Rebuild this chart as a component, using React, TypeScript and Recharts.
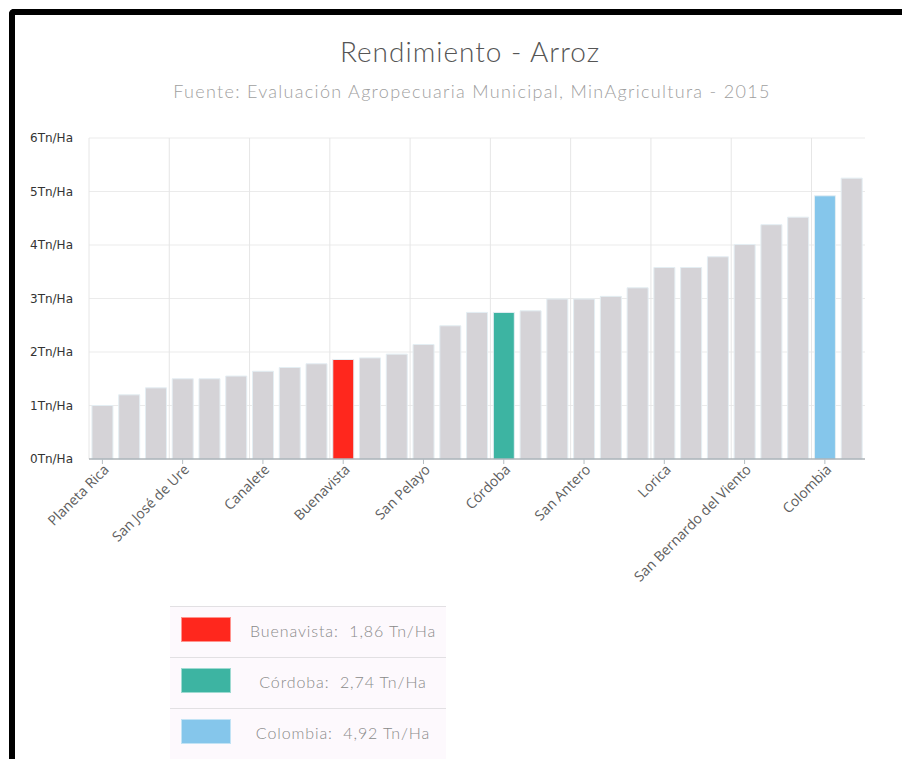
import React from "react";
import { BarChart, Bar, XAxis, YAxis, CartesianGrid, Cell, ReferenceLine } from "recharts";

const categories: string[] = [
  "Planeta Rica", "Tierralta", "Valencia", "San José de Ure", "Puerto Libertador",
  "Montelíbano", "Canalete", "Ayapel", "Pueblo Nuevo", "Buenavista",
  "La Apartada", "Sahagún", "San Pelayo", "Chinú", "San Carlos",
  "Córdoba", "Ciénaga de Oro", "Montería", "San Antero", "Cereté",
  "Cotorra", "Lorica", "Purísima", "Momil", "San Bernardo del Viento",
  "Moñitos", "Los Córdobas", "Colombia", "Chimá",
];

const yields: number[] = [
  1.0, 1.2, 1.33, 1.5, 1.5,
  1.55, 1.64, 1.71, 1.78, 1.86,
  1.89, 1.96, 2.14, 2.49, 2.74,
  2.74, 2.77, 2.99, 2.99, 3.04,
  3.2, 3.58, 3.58, 3.78, 4.01,
  4.38, 4.52, 4.92, 5.25,
];

const yTicks: number[] = [0, 1, 2, 3, 4, 5, 6];

const highlightNames: string[] = ["Buenavista", "Córdoba", "Colombia"];
const highlightColors: string[] = ["#ff271d", "#3db4a2", "#85c6eb"];
const highlightValues: string[] = ["1,86", "2,74", "4,92"];

const baseColor = "#d5d3d7";

const data = categories.map((name, i) => ({ name, value: yields[i] }));
const gridCats = categories.filter((_, i) => i % 3 === 0);

const thinFont = "Lato, 'Open Sans', 'DejaVu Sans', sans-serif";

const XTick = (props: any) => {
  const { x, y, payload } = props;
  return (
    <g transform={`translate(${x + 4},${y})`}>
      <text
        transform="rotate(-45)"
        textAnchor="end"
        dy="0.35em"
        fontSize={14}
        fontFamily="'Open Sans', 'DejaVu Sans', sans-serif"
        fill="#5e5e5e"
      >
        {payload.value}
      </text>
    </g>
  );
};

export default function App() {
  return (
    <div
      style={{
        position: "fixed",
        left: 0,
        top: 0,
        width: 902,
        height: 759,
        overflow: "hidden",
        background: "#fff",
      }}
    >
      <div
        style={{
          position: "absolute",
          left: 9,
          top: 9,
          width: 920,
          height: 780,
          borderTop: "6px solid #000",
          borderLeft: "6px solid #000",
          borderTopLeftRadius: 5,
        }}
      />
      <div
        style={{
          position: "absolute",
          left: 40,
          width: 860,
          top: 33,
          textAlign: "center",
          fontFamily: thinFont,
          fontWeight: 300,
          fontSize: 28,
          letterSpacing: 1,
          lineHeight: "36px",
          color: "#555",
        }}
      >
        Rendimiento - Arroz
      </div>
      <div
        style={{
          position: "absolute",
          left: 40,
          width: 864,
          top: 79,
          textAlign: "center",
          fontFamily: thinFont,
          fontWeight: 300,
          fontSize: 18,
          letterSpacing: 1.3,
          lineHeight: "24px",
          color: "#a0a0a0",
        }}
      >
        Fuente: Evaluación Agropecuaria Municipal, MinAgricultura - 2015
      </div>

      <div style={{ position: "absolute", left: 0, top: 0 }}>
        <BarChart
          width={902}
          height={620}
          data={data}
          margin={{ top: 138, right: 37, bottom: 21, left: 9 }}
          barCategoryGap="11%"
        >
          <CartesianGrid vertical={false} stroke="#ebebeb" />
          {gridCats.map((c) => (
            <ReferenceLine
              key={c}
              x={c}
              position="start"
              stroke="#e6e6e6"
              strokeWidth={1}
            />
          ))}
          <YAxis
            width={80}
            domain={[0, 6]}
            ticks={yTicks}
            tickFormatter={(v: number) => `${v}Tn/Ha`}
            axisLine={false}
            tickLine={false}
            tickSize={8}
            tickMargin={8}
            tick={{ fontSize: 12, fill: "#333", fontFamily: "'DejaVu Sans', sans-serif" }}
          />
          <XAxis
            dataKey="name"
            height={140}
            interval={2}
            axisLine={{ stroke: "#8f989e", strokeWidth: 1 }}
            tickLine={{ stroke: "#b5bdc2" }}
            tickSize={5}
            tickMargin={3}
            tick={<XTick />}
          />
          <Bar dataKey="value" isAnimationActive={false} stroke="#e4eef3" strokeWidth={1}>
            {data.map((d, i) => {
              const h = highlightNames.indexOf(d.name);
              return <Cell key={i} fill={h >= 0 ? highlightColors[h] : baseColor} />;
            })}
          </Bar>
        </BarChart>
      </div>

      <div
        style={{
          position: "absolute",
          left: 170,
          top: 606,
          width: 276,
          background: "#fdf9fd",
        }}
      >
        {highlightNames.map((n, i) => (
          <div
            key={n}
            style={{
              position: "relative",
              height: 50,
              borderTop: "1px solid #e2e0e3",
            }}
          >
            <div
              style={{
                position: "absolute",
                left: 11,
                top: 10,
                width: 48,
                height: 23,
                background: highlightColors[i],
                border: "1px solid rgba(255,255,255,0.5)",
              }}
            />
            <div
              style={{
                position: "absolute",
                left: 64,
                width: 218,
                top: 13,
                textAlign: "center",
                whiteSpace: "pre",
                fontFamily: thinFont,
                fontWeight: 300,
                fontSize: 16,
                letterSpacing: 0.9,
                lineHeight: "22px",
                color: "#8a8a8a",
              }}
            >
              {`${n}:  ${highlightValues[i]} Tn/Ha`}
            </div>
          </div>
        ))}
      </div>
    </div>
  );
}
